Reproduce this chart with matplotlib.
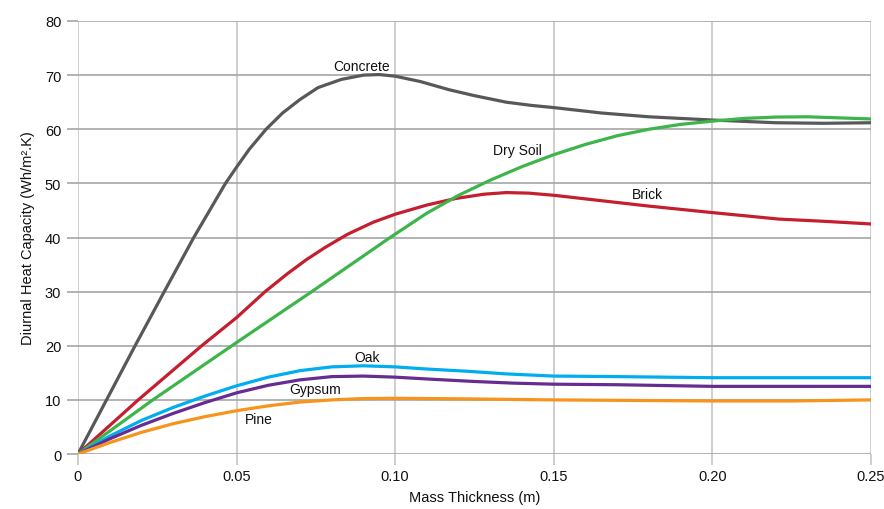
import matplotlib
matplotlib.use('Agg')
import matplotlib.pyplot as plt

plt.rcParams['font.family'] = ['Liberation Sans', 'DejaVu Sans']

# values
concrete_x = [0, 0.009, 0.018, 0.0272, 0.0365, 0.0465, 0.05, 0.054, 0.0593, 0.0645, 0.07, 0.0757,
              0.083, 0.09, 0.095, 0.10, 0.108, 0.117, 0.125, 0.135, 0.143, 0.15, 0.165, 0.18,
              0.20, 0.22, 0.235, 0.25]
concrete_y = [0, 10, 20, 30, 40, 50, 53, 56.3, 60, 63.0, 65.5, 67.7,
              69.2, 70.0, 70.1, 69.8, 68.8, 67.3, 66.2, 65.0, 64.4, 64.0, 63.0, 62.3,
              61.7, 61.2, 61.1, 61.2]

brick_x = [0, 0.019, 0.039, 0.05, 0.059, 0.066, 0.072, 0.078, 0.085, 0.093, 0.10, 0.11,
           0.119, 0.128, 0.135, 0.142, 0.15, 0.165, 0.18, 0.20, 0.221, 0.235, 0.25]
brick_y = [0, 10, 20, 25.2, 30, 33.3, 35.9, 38.2, 40.6, 42.8, 44.3, 46.0,
           47.2, 48.0, 48.3, 48.2, 47.8, 46.8, 45.8, 44.6, 43.4, 43.0, 42.5]

soil_x = [0, 0.0236, 0.05, 0.0737, 0.0984, 0.11, 0.12, 0.13, 0.14, 0.15, 0.16, 0.17,
          0.18, 0.19, 0.20, 0.21, 0.22, 0.23, 0.24, 0.25]
soil_y = [0, 10, 20.6, 30, 40, 44.5, 47.8, 50.6, 53.1, 55.3, 57.2, 58.8,
          60.0, 60.9, 61.5, 62.0, 62.25, 62.3, 62.1, 61.9]

oak_x = [0, 0.01, 0.02, 0.03, 0.04, 0.05, 0.06, 0.07, 0.08, 0.09, 0.10, 0.11,
         0.1225, 0.135, 0.15, 0.17, 0.20, 0.225, 0.25]
oak_y = [0, 3.3, 6.2, 8.6, 10.7, 12.6, 14.2, 15.4, 16.1, 16.3, 16.1, 15.7,
         15.3, 14.8, 14.4, 14.3, 14.1, 14.1, 14.1]

gypsum_x = [0, 0.01, 0.02, 0.03, 0.04, 0.05, 0.06, 0.07, 0.08, 0.09, 0.10, 0.112,
            0.125, 0.137, 0.15, 0.17, 0.20, 0.225, 0.25]
gypsum_y = [0, 2.8, 5.3, 7.5, 9.5, 11.3, 12.7, 13.7, 14.3, 14.4, 14.2, 13.8,
            13.4, 13.1, 12.9, 12.8, 12.5, 12.5, 12.5]

pine_x = [0, 0.01, 0.02, 0.03, 0.04, 0.05, 0.06, 0.07, 0.08, 0.09, 0.10, 0.12, 0.15,
          0.175, 0.20, 0.225, 0.25]
pine_y = [0, 2.1, 4.0, 5.6, 6.9, 8.0, 8.9, 9.6, 10.0, 10.25, 10.3, 10.2, 10.0,
          9.9, 9.8, 9.8, 10.0]

x_ticks = [0, 0.05, 0.10, 0.15, 0.20, 0.25]
x_tick_labels = ['0', '0.05', '0.10', '0.15', '0.20', '0.25']
y_ticks = [0, 10, 20, 30, 40, 50, 60, 70, 80]

series = [
    ('Concrete', concrete_x, concrete_y, '#58585a', (0.0895, 71.6)),
    ('Brick', brick_x, brick_y, '#c41e2f', (0.1794, 48.1)),
    ('Dry Soil', soil_x, soil_y, '#3db54a', (0.1384, 56.2)),
    ('Oak', oak_x, oak_y, '#00aeef', (0.0911, 17.9)),
    ('Gypsum', gypsum_x, gypsum_y, '#662d91', (0.0747, 12.0)),
    ('Pine', pine_x, pine_y, '#f7941d', (0.057, 6.5)),
]

fig = plt.figure(figsize=(8.84, 5.10), dpi=100)
ax = fig.add_axes([0.0882, 0.1078, 0.8971, 0.8491])

for name, xs, ys, color, pos in series:
    ax.plot(xs, ys, color=color, lw=2.3, solid_joinstyle='round', zorder=3)
    ax.text(pos[0], pos[1], name, fontsize=10, ha='center', va='center', color='#111111', zorder=4)

ax.set_xlim(0, 0.25)
ax.set_ylim(0, 80)
ax.set_xticks(x_ticks)
ax.set_xticklabels(x_tick_labels)
ax.set_yticks(y_ticks)

for sp in ax.spines.values():
    sp.set_visible(False)

ax.grid(axis='y', color='#a6a6a6', lw=1.2, zorder=1)
ax.grid(axis='x', color='#c6c6c6', lw=1.2, zorder=1)
ax.tick_params(axis='y', length=8, width=1.2, color='#a6a6a6', labelsize=10.5, pad=4, labelcolor='#111111')
ax.tick_params(axis='x', length=8, width=1.2, color='#c6c6c6', labelsize=10.5, pad=3, labelcolor='#111111')

ax.set_xlabel('Mass Thickness (m)', fontsize=10.5, labelpad=5, color='#111111')
ax.set_ylabel('Diurnal Heat Capacity (Wh/m\u00b2.K)', fontsize=10.5, labelpad=7, color='#111111')

fig.savefig('out.png', dpi=100)
plt.close(fig)
